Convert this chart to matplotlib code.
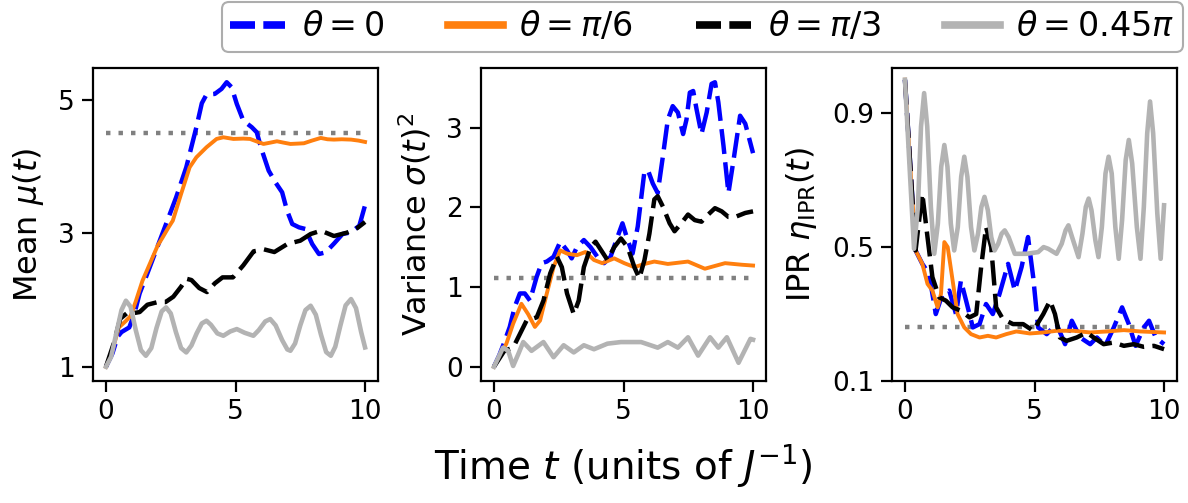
import numpy as np
import matplotlib
matplotlib.use("Agg")
import matplotlib.pyplot as plt

plt.rcParams['lines.scale_dashes'] = False

# ---- data ----
labels = [r'$\theta=0$', r'$\theta=\pi/6$', r'$\theta=\pi/3$', r'$\theta=0.45\pi$']
colors = ['blue', '#ff7f0e', 'black', '0.7']
dash = (0, (18, 6))
dots = (0, (3.2, 5.8))
styles = [dash, '-', dash, '-']
widths = [3.2, 2.8, 3.2, 3.3]

# Mean mu(t)
t_mean_0 = [0.0, 0.25, 0.45, 0.6, 0.9, 1.1, 1.3, 1.55, 1.93, 2.32, 2.71, 3.1, 3.49, 3.7, 3.88, 4.2, 4.46, 4.66,
            4.85, 5.05, 5.3, 5.63, 5.82, 6.0, 6.28, 6.54, 6.8, 6.99, 7.19, 7.45, 7.7, 7.96, 8.22, 8.48, 8.81,
            9.13, 9.46, 9.78, 10.0]
mean_0 = [1.0, 1.2, 1.45, 1.52, 1.59, 1.8, 2.1, 2.35, 2.74, 3.14, 3.54, 3.99, 4.59, 4.95, 5.08, 5.09, 5.165, 5.265,
          5.19, 4.94, 4.69, 4.59, 4.515, 4.265, 3.94, 3.765, 3.615, 3.34, 3.14, 3.09, 3.065, 2.84, 2.69, 2.715, 2.85,
          2.99, 3.015, 3.115, 3.42]
t_mean_1 = [0.0, 0.25, 0.5, 0.75, 0.95, 1.15, 1.41, 1.7, 2.0, 2.19, 2.4, 2.58, 2.9, 3.23, 3.49, 3.88, 4.27, 4.53,
            4.92, 5.3, 5.56, 5.8, 6.08, 6.35, 6.6, 6.85, 7.12, 7.4, 7.64, 7.95, 8.29, 8.55, 8.8, 9.1, 9.46, 9.75, 10.0]
mean_1 = [1.0, 1.25, 1.59, 1.68, 1.76, 1.98, 2.29, 2.55, 2.82, 2.94, 3.08, 3.19, 3.59, 3.99, 4.14, 4.29, 4.415, 4.44,
          4.415, 4.42, 4.415, 4.38, 4.34, 4.36, 4.38, 4.36, 4.34, 4.345, 4.35, 4.39, 4.43, 4.41, 4.405, 4.41, 4.405,
          4.39, 4.37]
t_mean_2 = [0.0, 0.3, 0.55, 0.8, 1.0, 1.3, 1.6, 2.0, 2.3, 2.6, 2.9, 3.1, 3.3, 3.6, 3.9, 4.2, 4.5, 4.9, 5.3, 5.7,
            6.1, 6.5, 7.0, 7.5, 7.9, 8.3, 8.8, 9.3, 9.7, 10.0]
mean_2 = [1.0, 1.35, 1.72, 1.8, 1.8, 1.82, 1.93, 1.97, 1.97, 2.05, 2.2, 2.32, 2.3, 2.18, 2.12, 2.25, 2.34, 2.34,
          2.52, 2.73, 2.76, 2.72, 2.84, 2.89, 2.99, 3.04, 2.96, 3.01, 3.08, 3.17]
t_mean_3 = [0.0, 0.2, 0.4, 0.6, 0.77, 0.95, 1.15, 1.35, 1.54, 1.75, 1.95, 2.15, 2.32, 2.5, 2.7, 2.9, 3.1, 3.3, 3.5,
            3.7, 3.88, 4.05, 4.3, 4.53, 4.8, 5.05, 5.35, 5.69, 5.9, 6.15, 6.34, 6.55, 6.8, 7.0, 7.12, 7.3, 7.5, 7.7,
            7.9, 8.1, 8.3, 8.5, 8.68, 8.85, 9.05, 9.25, 9.46, 9.65, 9.85, 10.0]
mean_3 = [1.0, 1.15, 1.5, 1.85, 1.99, 1.9, 1.55, 1.25, 1.165, 1.28, 1.58, 1.83, 1.89, 1.8, 1.52, 1.28, 1.215, 1.32,
          1.5, 1.65, 1.69, 1.63, 1.5, 1.465, 1.53, 1.565, 1.51, 1.465, 1.55, 1.68, 1.715, 1.62, 1.4, 1.26, 1.24, 1.35,
          1.62, 1.85, 1.915, 1.78, 1.48, 1.22, 1.165, 1.3, 1.62, 1.92, 2.015, 1.88, 1.52, 1.29]
mean_ref = 4.5

# Variance sigma(t)^2
t_var_0 = [0.0, 0.2, 0.35, 0.61, 0.8, 1.0, 1.19, 1.39, 1.65, 1.84, 2.04, 2.3, 2.56, 2.82, 3.0, 3.2, 3.47, 3.73,
           3.99, 4.25, 4.5, 4.77, 4.96, 5.16, 5.35, 5.55, 5.8, 5.94, 6.13, 6.32, 6.52, 6.71, 6.9, 7.1, 7.3, 7.43,
           7.56, 7.69, 7.82, 8.01, 8.21, 8.4, 8.53, 8.66, 8.86, 9.05, 9.25, 9.5, 9.7, 10.0]
var_0 = [0.0, 0.14, 0.265, 0.5, 0.75, 0.92, 0.92, 0.83, 1.13, 1.3, 1.32, 1.38, 1.57, 1.46, 1.36, 1.5, 1.59, 1.5,
         1.38, 1.3, 1.38, 1.63, 1.8, 1.59, 1.42, 1.76, 2.43, 2.47, 2.3, 2.18, 2.64, 3.1, 3.27, 3.19, 2.92, 3.1,
         3.44, 3.46, 3.23, 2.92, 3.19, 3.55, 3.57, 3.32, 2.77, 2.18, 2.6, 3.15, 3.05, 2.68]
t_var_1 = [0.0, 0.48, 0.74, 1.06, 1.32, 1.58, 1.78, 2.04, 2.3, 2.56, 2.82, 3.2, 3.53, 3.86, 4.18, 4.64, 5.03, 5.42,
           5.81, 6.19, 6.71, 7.49, 8.14, 8.92, 9.57, 10.0]
var_1 = [0.0, 0.29, 0.54, 0.79, 0.66, 0.5, 0.58, 0.92, 1.25, 1.46, 1.42, 1.4, 1.44, 1.34, 1.3, 1.36, 1.3, 1.25,
         1.29, 1.32, 1.29, 1.32, 1.23, 1.3, 1.28, 1.27]
t_var_2 = [0.0, 0.4, 0.74, 1.0, 1.26, 1.65, 1.91, 2.17, 2.43, 2.62, 2.82, 3.08, 3.27, 3.47, 3.73, 3.92, 4.18, 4.38,
           4.64, 4.9, 5.16, 5.42, 5.61, 5.81, 6.0, 6.19, 6.32, 6.52, 6.78, 6.97, 7.23, 7.49, 7.75, 8.01, 8.27, 8.53,
           8.79, 9.05, 9.31, 9.7, 10.0]
var_2 = [0.0, 0.2, 0.24, 0.41, 0.58, 0.62, 0.83, 1.17, 1.38, 1.25, 0.92, 0.66, 0.83, 1.25, 1.5, 1.57, 1.44, 1.34,
         1.5, 1.61, 1.5, 1.25, 1.11, 1.34, 1.67, 2.1, 2.14, 2.01, 1.8, 1.7, 1.8, 1.91, 1.84, 1.82, 1.91, 1.99,
         1.95, 1.88, 1.88, 1.93, 1.95]
t_var_3 = [0.0, 0.35, 0.55, 0.74, 0.94, 1.13, 1.45, 1.91, 2.3, 2.69, 3.08, 3.47, 3.86, 4.38, 4.9, 5.68, 6.32, 6.71,
           7.1, 7.49, 7.88, 8.34, 8.66, 8.99, 9.44, 9.9, 10.0]
var_3 = [0.0, 0.24, 0.2, 0.01, 0.16, 0.31, 0.2, 0.31, 0.12, 0.27, 0.18, 0.27, 0.22, 0.29, 0.31, 0.31, 0.24, 0.31,
         0.24, 0.37, 0.14, 0.37, 0.24, 0.37, 0.05, 0.35, 0.34]
var_ref = 1.12

# IPR eta(t)
t_ipr_0 = [0.0, 0.41, 0.67, 0.93, 1.19, 1.45, 1.71, 1.97, 2.16, 2.36, 2.62, 2.88, 3.13, 3.39, 3.65, 3.98, 4.24,
           4.5, 4.75, 4.95, 5.14, 5.47, 5.85, 6.18, 6.44, 6.76, 7.15, 7.41, 7.73, 8.06, 8.38, 8.64, 8.9, 9.22,
           9.42, 9.68, 10.0]
ipr_0 = [1.0, 0.49, 0.45, 0.42, 0.3, 0.36, 0.37, 0.3, 0.4, 0.34, 0.26, 0.27, 0.33, 0.3, 0.36, 0.45, 0.37, 0.44,
         0.53, 0.41, 0.26, 0.24, 0.27, 0.21, 0.28, 0.23, 0.21, 0.23, 0.205, 0.26, 0.32, 0.27, 0.205, 0.26, 0.28,
         0.23, 0.21]
t_ipr_1 = [0.0, 0.41, 0.67, 0.87, 1.06, 1.26, 1.39, 1.52, 1.65, 1.84, 2.03, 2.29, 2.55, 2.88, 3.2, 3.52, 3.91,
           4.3, 4.82, 5.34, 5.85, 6.5, 7.15, 7.8, 8.45, 9.09, 10.0]
ipr_1 = [1.0, 0.49, 0.45, 0.39, 0.37, 0.32, 0.36, 0.515, 0.5, 0.4, 0.3, 0.26, 0.24, 0.23, 0.235, 0.23, 0.24, 0.248,
         0.242, 0.245, 0.25, 0.25, 0.245, 0.248, 0.252, 0.248, 0.245]
t_ipr_2 = [0.0, 0.41, 0.67, 0.87, 1.06, 1.32, 1.58, 1.84, 2.16, 2.49, 2.75, 2.94, 3.13, 3.33, 3.52, 3.78, 4.17,
           4.56, 4.95, 5.34, 5.6, 5.79, 5.98, 6.24, 6.63, 7.02, 7.28, 7.67, 8.06, 8.45, 8.83, 9.22, 9.61, 10.0]
ipr_2 = [1.0, 0.49, 0.66, 0.53, 0.41, 0.35, 0.34, 0.32, 0.31, 0.29, 0.3, 0.44, 0.56, 0.5, 0.32, 0.285, 0.27, 0.27,
         0.25, 0.3, 0.34, 0.3, 0.23, 0.22, 0.23, 0.245, 0.23, 0.21, 0.215, 0.205, 0.21, 0.202, 0.205, 0.195]
t_ipr_3 = [0.0, 0.15, 0.35, 0.5, 0.62, 0.74, 0.86, 1.0, 1.13, 1.27, 1.4, 1.52, 1.64, 1.77, 1.9, 2.04, 2.17, 2.29,
           2.41, 2.55, 2.68, 2.82, 2.95, 3.07, 3.2, 3.33, 3.46, 3.6, 3.73, 3.85, 4.0, 4.24, 4.69, 5.14, 5.35, 5.53,
           5.85, 6.05, 6.2, 6.31, 6.45, 6.7, 6.85, 6.98, 7.09, 7.2, 7.35, 7.47, 7.6, 7.74, 7.86, 7.98, 8.12, 8.25,
           8.38, 8.52, 8.64, 8.77, 8.95, 9.09, 9.22, 9.35, 9.46, 9.58, 9.74, 9.87, 10.0]
ipr_3 = [1.0, 0.78, 0.495, 0.62, 0.86, 0.96, 0.86, 0.62, 0.48, 0.57, 0.74, 0.805, 0.74, 0.57, 0.49, 0.56, 0.71,
         0.77, 0.71, 0.56, 0.49, 0.54, 0.62, 0.65, 0.61, 0.53, 0.49, 0.51, 0.54, 0.55, 0.53, 0.48, 0.48, 0.485,
         0.5, 0.495, 0.48, 0.51, 0.55, 0.565, 0.53, 0.47, 0.54, 0.62, 0.645, 0.61, 0.52, 0.47, 0.56, 0.72, 0.77,
         0.72, 0.56, 0.465, 0.58, 0.76, 0.82, 0.75, 0.56, 0.465, 0.62, 0.84, 0.935, 0.84, 0.6, 0.465, 0.625]
ipr_ref = 0.26

panels = [
    ([t_mean_0, t_mean_1, t_mean_2, t_mean_3], [mean_0, mean_1, mean_2, mean_3], mean_ref,
     r'Mean $\mu(t)$', [1, 3, 5]),
    ([t_var_0, t_var_1, t_var_2, t_var_3], [var_0, var_1, var_2, var_3], var_ref,
     r'Variance $\sigma(t)^2$', [0, 1, 2, 3]),
    ([t_ipr_0, t_ipr_1, t_ipr_2, t_ipr_3], [ipr_0, ipr_1, ipr_2, ipr_3], ipr_ref,
     r'IPR $\eta_{\rm IPR}(t)$', [0.1, 0.5, 0.9]),
]

W, H = 1188, 503
fig = plt.figure(figsize=(W / 100, H / 100), dpi=100)
lefts = [93, 481, 892]
axes = []
for i, (ts, ys, ref, ylab, yt) in enumerate(panels):
    ax = fig.add_axes([lefts[i] / W, 1 - 381 / H, 285 / W, (381 - 68) / H])
    ax.plot([0, 10], [ref, ref], linestyle=dots, color='gray', lw=3.2)
    for t, y, c, ls, lw, lab in zip(ts, ys, colors, styles, widths, labels):
        ax.plot(t, y, linestyle=ls, color=c, lw=lw, label=lab)
    ax.set_yticks(yt)
    ax.set_xticks([0, 5, 10])
    ax.set_ylabel(ylab, fontsize=23, labelpad=9)
    ax.tick_params(labelsize=19, length=8, width=1.6, pad=5)
    for s in ax.spines.values():
        s.set_linewidth(1.6)
    axes.append(ax)

axes[2].set_ylim(0.1, 1.035)
axes[1].set_xlabel(r'Time $t$ (units of $J^{-1}$)', fontsize=28, labelpad=12)

handles, labs = axes[0].get_legend_handles_labels()
leg = fig.legend(handles[:4], labs[:4], loc='upper right', bbox_to_anchor=(1183 / W, 1 - 2 / H),
                 ncol=4, fontsize=24, edgecolor='0.6', fancybox=True, columnspacing=1.9,
                 handlelength=1.65, handletextpad=0.5, borderpad=0.25, borderaxespad=0.0)
leg.get_frame().set_linewidth(1.5)
for ln in leg.get_lines():
    ln.set_linewidth(5.5)

fig.savefig('out.png', dpi=100)
